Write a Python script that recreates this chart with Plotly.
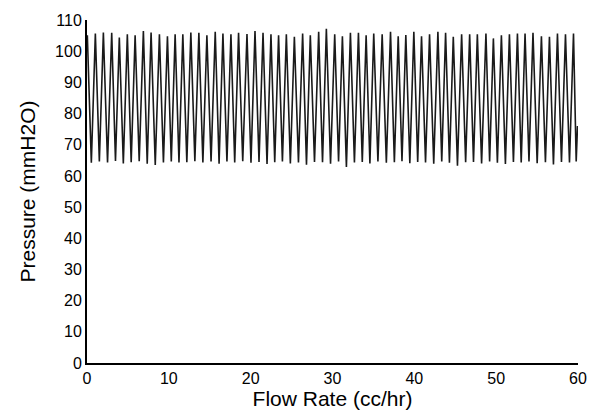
import plotly.graph_objects as go

# Peak positions (cc/hr) and heights (mmH2O)
peak_x = [0.04, 1.02, 2.00, 3.02, 3.95, 4.93, 5.88, 6.89, 7.83, 8.85,
          9.83, 10.77, 11.71, 12.69, 13.67, 14.65, 15.67, 16.61, 17.59, 18.52,
          19.55, 20.53, 21.51, 22.48, 23.41, 24.36, 25.34, 26.35, 27.29, 28.31,
          29.25, 30.27, 31.21, 32.19, 33.17, 34.11, 35.04, 36.07, 37.09, 38.03,
          38.96, 39.94, 40.88, 41.86, 42.88, 43.82, 44.76, 45.78, 46.76, 47.70,
          48.75, 49.66, 50.64, 51.62, 52.60, 53.53, 54.50, 55.53, 56.51, 57.49,
          58.47, 59.45]
peak_y = [105.1, 105.7, 106.0, 105.9, 104.4, 105.4, 105.1, 106.5, 106.0, 105.4,
          104.8, 105.4, 105.4, 106.0, 105.9, 105.1, 106.2, 105.7, 105.4, 105.9,
          105.5, 106.5, 105.9, 105.4, 105.1, 105.4, 104.6, 105.7, 105.1, 106.2,
          107.2, 105.4, 104.8, 105.9, 105.9, 105.1, 105.7, 105.4, 106.2, 104.8,
          105.2, 106.2, 104.8, 105.4, 106.2, 105.9, 104.6, 105.4, 105.4, 105.4,
          105.7, 104.1, 105.1, 105.4, 105.7, 105.7, 105.9, 104.8, 104.6, 105.7,
          105.4, 105.7]
# Trough positions and lowest values between successive peaks
trough_x = [0.53, 1.51, 2.51, 3.48, 4.44, 5.40, 6.38, 7.36, 8.34, 9.34,
            10.30, 11.24, 12.20, 13.18, 14.16, 15.16, 16.14, 17.10, 18.05, 19.03,
            20.04, 21.02, 22.00, 22.94, 23.88, 24.85, 25.84, 26.82, 27.80, 28.78,
            29.76, 30.74, 31.70, 32.68, 33.64, 34.57, 35.55, 36.58, 37.56, 38.49,
            39.45, 40.41, 41.37, 42.37, 43.35, 44.29, 45.27, 46.27, 47.23, 48.22,
            49.20, 50.15, 51.13, 52.11, 53.06, 54.01, 55.01, 56.02, 57.00, 57.98,
            58.96, 59.78]
trough_y = [64.2, 64.6, 64.3, 64.8, 64.0, 64.4, 64.7, 63.9, 63.5, 64.3,
            64.6, 64.3, 64.4, 64.7, 64.3, 64.6, 63.9, 64.6, 64.3, 64.7,
            64.2, 64.5, 63.8, 64.4, 64.6, 64.0, 64.3, 63.6, 64.5, 64.4,
            63.9, 64.6, 62.9, 64.3, 64.5, 64.0, 64.6, 64.2, 64.4, 64.7,
            64.1, 64.5, 64.3, 63.9, 64.6, 64.2, 63.3, 64.4, 64.5, 64.0,
            64.6, 64.2, 63.8, 64.5, 64.3, 64.6, 64.1, 64.4, 63.7, 64.5,
            64.3, 64.6]
start_point = (0.0, 102.0)
end_point = (59.94, 76.0)

x_ticks = [0, 10, 20, 30, 40, 50, 60]
y_ticks = [0, 10, 20, 30, 40, 50, 60, 70, 80, 90, 100, 110]

xs = [start_point[0]]
ys = [start_point[1]]
for px, py, tx, ty in zip(peak_x, peak_y, trough_x, trough_y):
    xs += [px, tx]
    ys += [py, ty]
xs.append(end_point[0])
ys.append(end_point[1])

fig = go.Figure()
fig.add_trace(go.Scatter(x=xs, y=ys, mode="lines",
                         line=dict(color="#1a1a1a", width=1.6),
                         showlegend=False, hoverinfo="skip"))

font = dict(family="Liberation Sans, Arial, sans-serif", color="black")
fig.update_layout(
    width=600, height=415,
    margin=dict(l=79, r=30, t=12, b=60),
    paper_bgcolor="white", plot_bgcolor="white",
    font=dict(**font, size=16),
    xaxis=dict(range=[0, 60], tickvals=x_ticks, ticktext=[str(v) for v in x_ticks],
               showgrid=False, zeroline=False, showline=True, linecolor="black",
               linewidth=2, ticks="", ticklabelstandoff=0, automargin=False,
               tickfont=dict(size=16),
               title=dict(text="Flow Rate (cc/hr)", font=dict(size=21), standoff=2)),
    yaxis=dict(range=[0, 110], tickvals=y_ticks, ticktext=[str(v) for v in y_ticks],
               showgrid=False, zeroline=False, showline=True, linecolor="black",
               linewidth=2, ticks="", ticklabelstandoff=0, automargin=False,
               tickfont=dict(size=16),
               title=dict(text="Pressure (mmH2O)", font=dict(size=21), standoff=14)),
)

fig.write_html("out.html")
